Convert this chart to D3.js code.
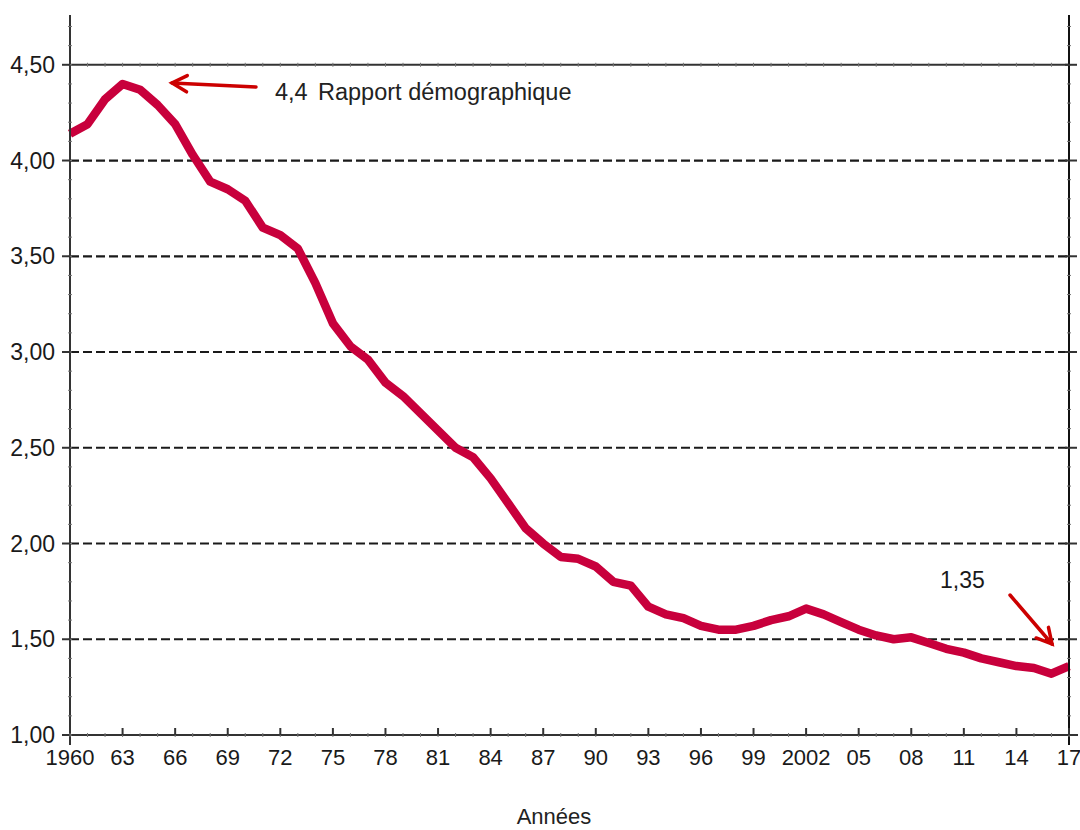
<!DOCTYPE html>
<html><head><meta charset="utf-8">
<script src="https://cdn.jsdelivr.net/npm/d3@7"></script>
<style>body{margin:0;background:#fff}svg{display:block;font-family:"Liberation Sans",Arial,sans-serif}</style>
</head><body><svg id="c" width="1080" height="830"></svg>
<script>
const years = d3.range(1960, 2018);
const ratio = [4.14,4.19,4.32,4.40,4.37,4.29,4.19,4.03,3.89,3.85,
               3.79,3.65,3.61,3.54,3.36,3.15,3.03,2.96,2.84,2.77,
               2.68,2.59,2.50,2.45,2.34,2.21,2.08,2.00,1.93,1.92,
               1.88,1.80,1.78,1.67,1.63,1.61,1.57,1.55,1.55,1.57,
               1.60,1.62,1.66,1.63,1.59,1.55,1.52,1.50,1.51,1.48,
               1.45,1.43,1.40,1.38,1.36,1.35,1.32,1.36];
const yTicks = [1.0,1.5,2.0,2.5,3.0,3.5,4.0,4.5];
const xTickYears = d3.range(1960, 2018, 3);
const xTickLabel = y => (y === 1960 || y === 2002) ? String(y) : String(y % 100).padStart(2, "0");
const fmt = v => d3.format(".2f")(v).replace(".", ",");

const svg = d3.select("#c");
const L = 70, R = 1069, T = 15, B = 735;
const x = d3.scaleLinear().domain([1960, 2017]).range([L, R]);
const y = d3.scaleLinear().domain([1.0, 4.76]).range([B, T]);
const axisCol = "#333";
const txt = "#1a1a1a";

// grid
svg.append("g").selectAll("line").data(yTicks.filter(v => v > 1 && v < 4.5)).join("line")
  .attr("x1", L).attr("x2", R).attr("y1", d => y(d)).attr("y2", d => y(d))
  .attr("stroke", "#1a1a1a").attr("stroke-width", 2.2).attr("stroke-dasharray", "9,4");
// top solid line at 4.50
svg.append("line").attr("x1", L).attr("x2", R).attr("y1", y(4.5)).attr("y2", y(4.5))
  .attr("stroke", axisCol).attr("stroke-width", 2);
svg.append("g").selectAll("line").data(years).join("line")
  .attr("x1", d => x(d)).attr("x2", d => x(d)).attr("y1", y(4.5) - 2).attr("y2", y(4.5) + 2)
  .attr("stroke", "#777").attr("stroke-width", 1);

// data line
const line = d3.line().x((d, i) => x(years[i])).y(d => y(d));
svg.append("path").datum(ratio).attr("d", line).attr("fill", "none")
  .attr("stroke", "#c8003c").attr("stroke-width", 8.5).attr("stroke-linejoin", "round");

// axes lines
svg.append("line").attr("x1", L).attr("x2", L).attr("y1", T).attr("y2", B + 10).attr("stroke", axisCol).attr("stroke-width", 2);
svg.append("line").attr("x1", R).attr("x2", R).attr("y1", T).attr("y2", B + 10).attr("stroke", "#111").attr("stroke-width", 2);
svg.append("line").attr("x1", L - 8).attr("x2", 1078).attr("y1", B).attr("y2", B).attr("stroke", axisCol).attr("stroke-width", 2);

// y minor ticks
const minorY = d3.range(10, 48).map(v => v / 10);
svg.append("g").selectAll("line").data(minorY).join("line")
  .attr("x1", L - 2).attr("x2", L + 2).attr("y1", d => y(d)).attr("y2", d => y(d))
  .attr("stroke", "#777").attr("stroke-width", 1);
svg.append("g").selectAll("line").data(minorY).join("line")
  .attr("x1", R - 2).attr("x2", R + 2).attr("y1", d => y(d)).attr("y2", d => y(d))
  .attr("stroke", "#777").attr("stroke-width", 1);
// y major ticks
svg.append("g").selectAll("line").data(yTicks).join("line")
  .attr("x1", L - 8).attr("x2", L).attr("y1", d => y(d)).attr("y2", d => y(d))
  .attr("stroke", axisCol).attr("stroke-width", 2);
svg.append("g").selectAll("line").data(yTicks).join("line")
  .attr("x1", R - 4).attr("x2", R + 8).attr("y1", d => y(d)).attr("y2", d => y(d))
  .attr("stroke", axisCol).attr("stroke-width", 2);
svg.append("g").selectAll("text").data(yTicks).join("text")
  .attr("x", 55).attr("y", d => y(d) + 8).attr("text-anchor", "end")
  .attr("font-size", 23).attr("fill", txt).text(fmt);

// x minor ticks
svg.append("g").selectAll("line").data(years).join("line")
  .attr("x1", d => x(d)).attr("x2", d => x(d)).attr("y1", B - 2).attr("y2", B + 2)
  .attr("stroke", "#777").attr("stroke-width", 1);
// x major ticks
svg.append("g").selectAll("line").data(xTickYears.filter(d => d > 1960)).join("line")
  .attr("x1", d => x(d)).attr("x2", d => x(d)).attr("y1", B - 7).attr("y2", B)
  .attr("stroke", axisCol).attr("stroke-width", 2);
svg.append("g").selectAll("text").data(xTickYears).join("text")
  .attr("x", d => x(d)).attr("y", B + 30).attr("text-anchor", "middle")
  .attr("font-size", 22).attr("fill", txt).text(xTickLabel);

svg.append("text").attr("x", 554).attr("y", 824).attr("text-anchor", "middle")
  .attr("font-size", 22).attr("fill", "#222").text("Années");

// annotations
const red = "#cc0000";
function arrow(x1, y1, x2, y2) {
  const g = svg.append("g").attr("stroke", red).attr("stroke-width", 3.5).attr("fill", "none").attr("stroke-linecap", "round");
  g.append("line").attr("x1", x1).attr("y1", y1).attr("x2", x2).attr("y2", y2);
  const a = Math.atan2(y2 - y1, x2 - x1), h = 17, s = 0.5;
  g.append("polyline").attr("points", [
    [x2 - h * Math.cos(a - s), y2 - h * Math.sin(a - s)], [x2, y2], [x2 - h * Math.cos(a + s), y2 - h * Math.sin(a + s)]
  ].map(p => p.join(",")).join(" "));
}
arrow(256, 87, 172, 83);
arrow(1010, 595, 1052, 644);
svg.append("text").attr("x", 275).attr("y", 100).attr("font-size", 23.5).attr("fill", "#222").text("4,4");
svg.append("text").attr("x", 318).attr("y", 100).attr("font-size", 23.5).attr("fill", "#222").text("Rapport démographique");
svg.append("text").attr("x", 940).attr("y", 588).attr("font-size", 23).attr("fill", txt).text("1,35");
</script></body></html>
